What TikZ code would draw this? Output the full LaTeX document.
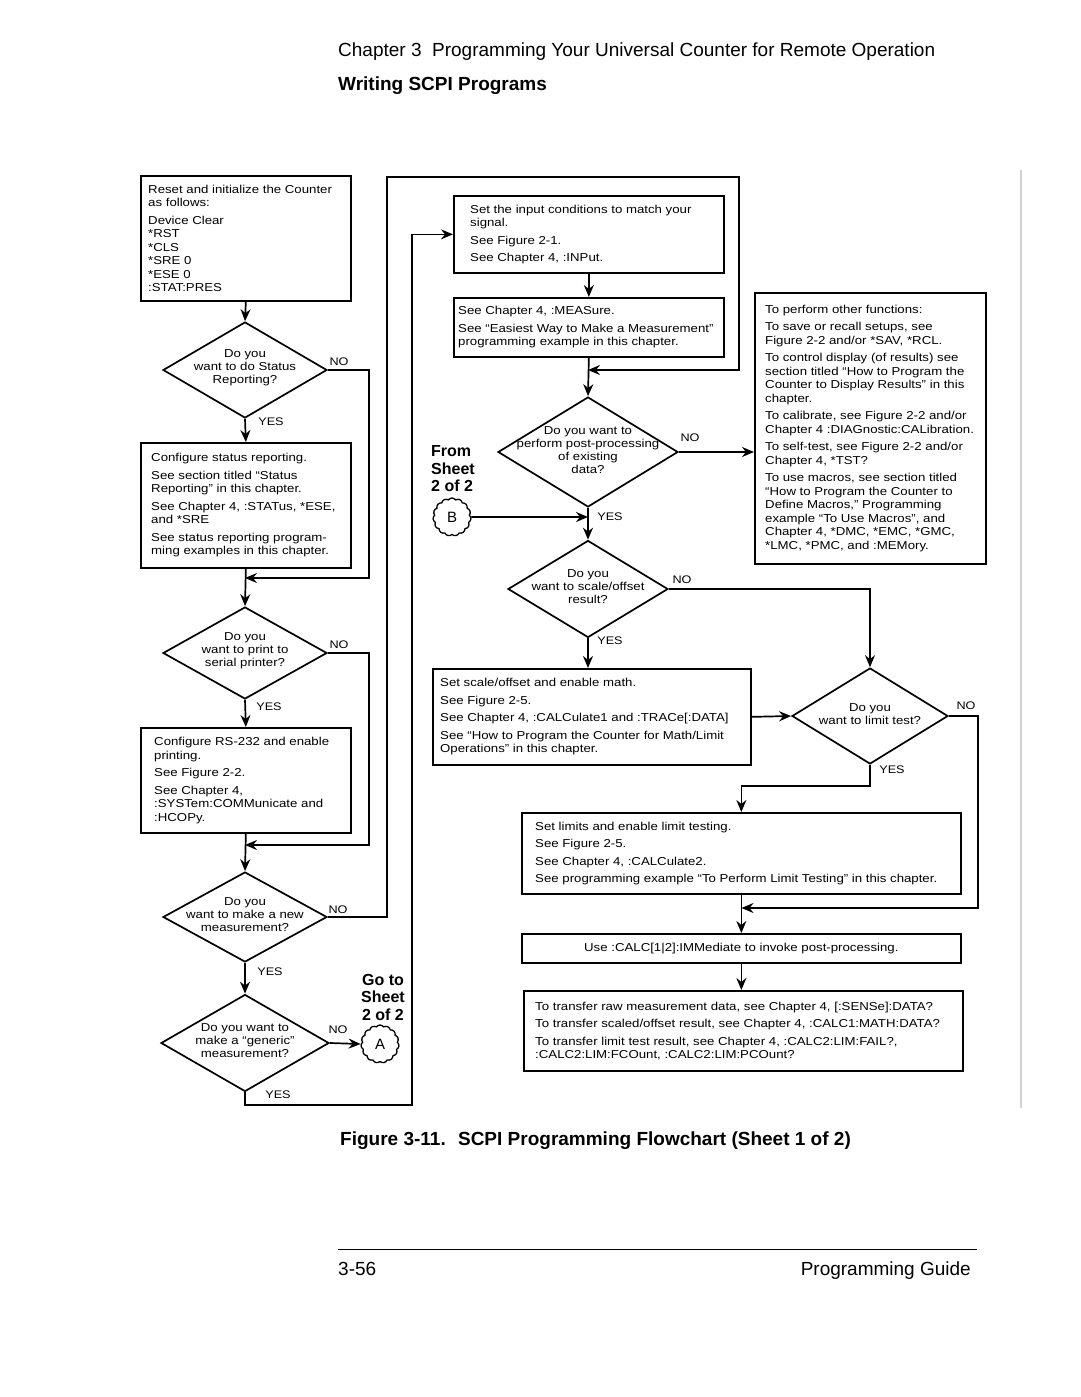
\documentclass[tikz,border=0pt]{standalone}
\usepackage{fontspec}
\setmainfont{Liberation Sans}
\newfontfamily\fcfont[FakeStretch=1.15]{Liberation Sans}
\usetikzlibrary{arrows.meta,shapes.geometric,shapes.symbols}
\begin{document}
\begin{tikzpicture}[x=1pt,y=-1pt,
  arr/.style={line width=1.7pt,-{Stealth[length=12pt,width=10pt,inset=4pt]}},
  fbox/.style={draw,line width=1.7pt,rectangle,inner sep=0pt,anchor=north west},
  ftxt/.style={font=\fcfont\fontsize{11.5}{13.5}\selectfont,align=left,inner sep=0pt,anchor=west},
  dia/.style={draw,diamond,line width=1.7pt,inner sep=0pt},
  dtxt/.style={font=\fcfont\fontsize{11.5}{13}\selectfont,align=center,inner sep=0pt},
  lbl/.style={font=\fcfont\fontsize{11}{12}\selectfont,inner sep=0pt},
  conn/.style={draw,cloud,cloud puffs=15,cloud puff arc=110,aspect=1,line width=1.3pt,minimum width=38pt,minimum height=38pt,inner sep=0pt,font=\fontsize{15}{15}\selectfont},
  sheet/.style={font=\bfseries\fontsize{16}{17.5}\selectfont,inner sep=0pt},
  page/.style={font=\fontsize{19}{22}\selectfont,inner sep=0pt}
]
\useasboundingbox (0,0) rectangle (1080,1397);
\fill[white] (0,0) rectangle (1080,1397);

% header
\node[page,anchor=base west] (h1) at (338,57) {Chapter 3~ Programming Your Universal Counter for Remote Operation};
\node[page,anchor=base west,font=\bfseries\fontsize{19}{22}\selectfont] (h2) at (338,90) {Writing SCPI Programs};

% gray side rule
\draw[gray!35,line width=1.5pt] (1021,170) -- (1021,1108);

% ---------- left column ----------
\node[fbox,minimum width=210pt,minimum height=125pt] (b1) at (140,175) {};
\node[ftxt] (t1) at ([xshift=8pt]b1.west) {Reset and initialize the Counter\\ as follows:\\[4pt] Device Clear\\ *RST\\ *CLS\\ *SRE 0\\ *ESE 0\\ :STAT:PRES};

\node[dia,minimum width=164pt,minimum height=96pt] (d1) at (245,370) {};
\node[dtxt] (q1) at (245,368) {Do you\\ want to do Status\\ Reporting?};

\node[fbox,minimum width=210pt,minimum height=125pt] (b2) at (140,442) {};
\node[ftxt] (t2) at ([xshift=11pt]b2.west) {Configure status reporting.\\[4pt] See section titled “Status\\ Reporting” in this chapter.\\[4pt] See Chapter 4, :STATus, *ESE,\\ and *SRE\\[4pt] See status reporting program-\\ ming examples in this chapter.};

\node[dia,minimum width=164pt,minimum height=92pt] (d2) at (245,653) {};
\node[dtxt] (q2) at (245,651) {Do you\\ want to print to\\ serial printer?};

\node[fbox,minimum width=210pt,minimum height=105pt] (b3) at (140,727) {};
\node[ftxt] (t3) at ([xshift=14pt]b3.west) {Configure RS-232 and enable\\ printing.\\[4pt] See Figure 2-2.\\[4pt] See Chapter 4,\\ :SYSTem:COMMunicate and\\ :HCOPy.};

\node[dia,minimum width=164pt,minimum height=90pt] (d3) at (245,917) {};
\node[dtxt] (q3) at (245,915) {Do you\\ want to make a new\\ measurement?};

\node[dia,minimum width=168pt,minimum height=97pt] (d4) at (245,1043) {};
\node[dtxt] (q4) at (245,1041) {Do you want to\\ make a “generic”\\ measurement?};

\node[conn] (A) at (380,1044) {A};
\node[sheet,align=center] (gs) at (383,997) {Go to\\ Sheet\\ 2 of 2};

% ---------- middle column ----------
\node[fbox,minimum width=270pt,minimum height=77pt] (bin) at (453,195) {};
\node[ftxt] (tin) at ([xshift=17pt]bin.west) {Set the input conditions to match your\\ signal.\\[4pt] See Figure 2-1.\\[4pt] See Chapter 4, :INPut.};

\node[fbox,minimum width=270pt,minimum height=59pt] (bme) at (453,297) {};
\node[ftxt] (tme) at ([xshift=5pt]bme.west) {See Chapter 4, :MEASure.\\[4pt] See “Easiest Way to Make a Measurement”\\ programming example in this chapter.};

\node[dia,minimum width=180pt,minimum height=110pt] (d5) at (588,452) {};
\node[dtxt] (q5) at (588,450) {Do you want to\\ perform post-processing\\ of existing\\ data?};

\node[conn] (B) at (452,517) {B};
\node[sheet,align=left,anchor=west] (fs) at (431,469) {From\\ Sheet\\ 2 of 2};

\node[dia,minimum width=160pt,minimum height=97pt] (d6) at (588,589) {};
\node[dtxt] (q6) at (588,587) {Do you\\ want to scale/offset\\ result?};

\node[fbox,minimum width=318pt,minimum height=96pt] (bsc) at (432,668) {};
\node[ftxt] (tsc) at ([xshift=8pt]bsc.west) {Set scale/offset and enable math.\\[4pt] See Figure 2-5.\\[4pt] See Chapter 4, :CALCulate1 and :TRACe[:DATA]\\[4pt] See “How to Program the Counter for Math/Limit\\ Operations” in this chapter.};

% ---------- right column ----------
\node[fbox,minimum width=231pt,minimum height=271pt] (bri) at (754,292) {};
\node[ftxt] (tri) at ([xshift=11pt]bri.west) {To perform other functions:\\[4pt] To save or recall setups, see\\ Figure 2-2 and/or *SAV, *RCL.\\[4pt] To control display (of results) see\\ section titled “How to Program the\\ Counter to Display Results” in this\\ chapter.\\[4pt] To calibrate, see Figure 2-2 and/or\\ Chapter 4 :DIAGnostic:CALibration.\\[4pt] To self-test, see Figure 2-2 and/or\\ Chapter 4, *TST?\\[4pt] To use macros, see section titled\\ “How to Program the Counter to\\ Define Macros,” Programming\\ example “To Use Macros”, and\\ Chapter 4, *DMC, *EMC, *GMC,\\ *LMC, *PMC, and :MEMory.};

\node[dia,minimum width=156pt,minimum height=96pt] (d7) at (870,716) {};
\node[dtxt] (q7) at (870,714) {Do you\\ want to limit test?};

\node[fbox,minimum width=439pt,minimum height=81pt] (blim) at (521,812) {};
\node[ftxt] (tlim) at ([xshift=14pt]blim.west) {Set limits and enable limit testing.\\[4pt] See Figure 2-5.\\[4pt] See Chapter 4, :CALCulate2.\\[4pt] See programming example “To Perform Limit Testing” in this chapter.};

\node[fbox,minimum width=439pt,minimum height=29pt] (buse) at (521,933) {};
\node[ftxt,anchor=center] (tuse) at (buse.center) {Use :CALC[1|2]:IMMediate to invoke post-processing.};

\node[fbox,minimum width=439pt,minimum height=80pt] (btr) at (523,990) {};
\node[ftxt] (ttr) at ([xshift=12pt]btr.west) {To transfer raw measurement data, see Chapter 4, [:SENSe]:DATA?\\[4pt] To transfer scaled/offset result, see Chapter 4, :CALC1:MATH:DATA?\\[4pt] To transfer limit test result, see Chapter 4, :CALC2:LIM:FAIL?,\\ :CALC2:LIM:FCOunt, :CALC2:LIM:PCOunt?};

% ---------- connectors ----------
\coordinate (m1) at (245,578);
\coordinate (m2) at (245,845);
\coordinate (c1) at (412,1105);
\coordinate (c2) at (387,177);
\coordinate (c3) at (739,370);
\coordinate (m5) at (588,370);
\coordinate (m6) at (588,517);
\coordinate (m7) at (741.5,908);

\draw[arr] (b1.south) -- (d1.north);
\draw[arr] (d1.south) -- (b2.north);
\draw[arr] (d1.east) -- ++(41,0) |- (m1);
\draw[arr] (b2.south) -- (d2.north);
\draw[arr] (d2.south) -- (b3.north);
\draw[arr] (d2.east) -- ++(41,0) |- (m2);
\draw[arr] (b3.south) -- (d3.north);
\draw[arr] (d3.south) -- (d4.north);
\draw[arr] (d3.east) -| (c2) -| (c3) -- (m5);
\draw[arr] (d4.east) -- (A.west);
\draw[arr] (d4.south) |- (c1) |- (bin.west);

\draw[arr] (bin.south) -- (bme.north);
\draw[arr] (bme.south) -- (d5.north);
\draw[arr] (d5.east) -- (d5.east -| bri.west);
\draw[arr] (B.east) -- (m6);
\draw[arr] (d5.south) -- (d6.north);
\draw[arr] (d6.east) -| (d7.north);
\draw[arr] (d6.south) -- (d6.south |- bsc.north);
\draw[arr] (bsc.east) -- (d7.west);
\draw[arr] (d7.south) -- ++(0,21) -| (blim.north);
\draw[arr] (d7.east) -- ++(29,0) |- (m7);
\draw[arr] (blim.south) -- (buse.north);
\draw[arr] (buse.south) -- (buse.south |- btr.north);

% ---------- YES / NO labels ----------
\node[lbl] (n1) at (339,362) {NO};
\node[lbl] (y1) at (271,422) {YES};
\node[lbl] (n2) at (339,645) {NO};
\node[lbl] (y2) at (269,707) {YES};
\node[lbl] (n3) at (338,910) {NO};
\node[lbl] (y3) at (270,972) {YES};
\node[lbl] (n4) at (338,1030) {NO};
\node[lbl] (y4) at (278,1095) {YES};
\node[lbl] (n5) at (690,438) {NO};
\node[lbl] (y5) at (610,517) {YES};
\node[lbl] (n6) at (682,580) {NO};
\node[lbl] (y6) at (610,641) {YES};
\node[lbl] (n7) at (966,706) {NO};
\node[lbl] (y7) at (892,770) {YES};

% ---------- caption and footer ----------
\node[page,anchor=base west,font=\bfseries\fontsize{19}{22}\selectfont] (cap) at (340,1145) {Figure 3-11.~ SCPI Programming Flowchart (Sheet 1 of 2)};
\draw[line width=1pt] (338,1249) -- (977,1249);
\node[page,anchor=base west] (pn) at (338,1275) {3-56};
\node[page,anchor=base east] (pg) at (971,1275) {Programming Guide};
\end{tikzpicture}
\end{document}
